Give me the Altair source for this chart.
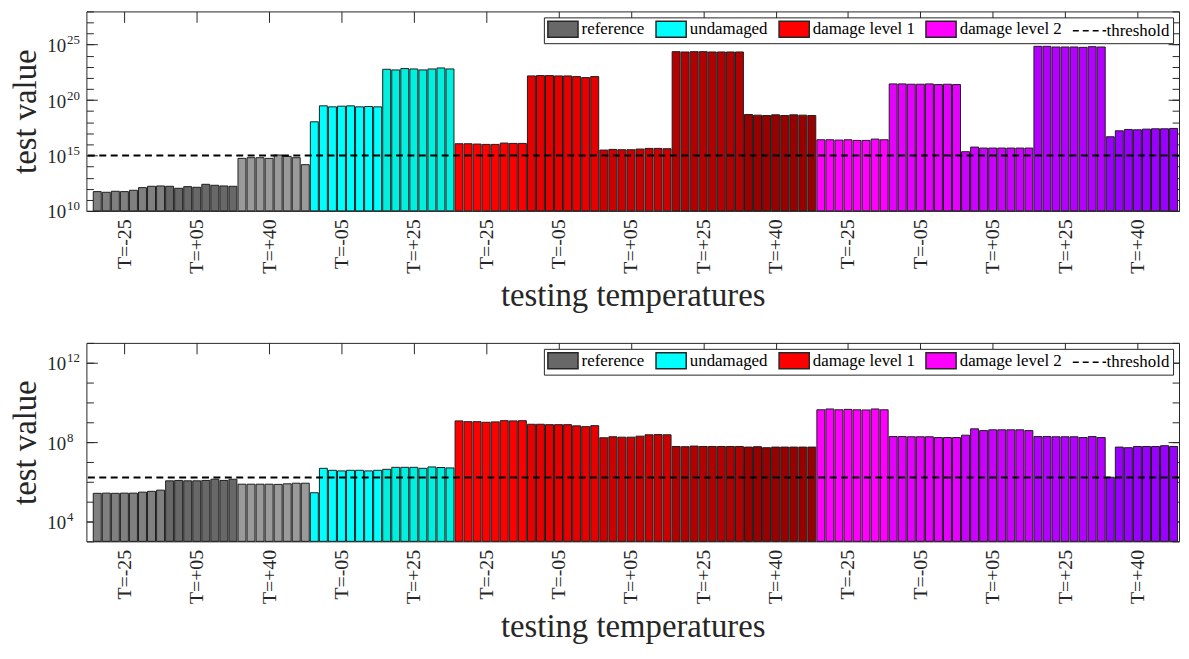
import json
import altair as alt
import pandas as pd

# ---------------- data ----------------
group_keys = [f"g{i:02d}" for i in range(1, 16)]
group_class = ["reference"] * 3 + ["undamaged"] * 2 + ["damage level 1"] * 5 + ["damage level 2"] * 5
temps = ["T=-25", "T=+05", "T=+40", "T=-05", "T=+25",
         "T=-25", "T=-05", "T=+05", "T=+25", "T=+40",
         "T=-25", "T=-05", "T=+05", "T=+25", "T=+40"]
group_colors = ["#808080", "#686868", "#9a9a9a", "#00ffff", "#00f0e0",
                "#ff0000", "#e60000", "#cc0000", "#b30000", "#990000",
                "#ff00ff", "#e600ff", "#cc00ff", "#b300ff", "#9900ff"]

# log10 of the test values (8 bars per temperature group)
top_log = [
    [11.74, 11.68, 11.77, 11.74, 11.86, 12.10, 12.22, 12.25],
    [12.22, 12.04, 12.19, 12.13, 12.40, 12.31, 12.25, 12.22],
    [14.74, 14.80, 14.80, 14.74, 15.04, 14.92, 14.80, 14.17],
    [18.04, 19.48, 19.39, 19.45, 19.48, 19.39, 19.42, 19.39],
    [22.78, 22.72, 22.84, 22.81, 22.72, 22.81, 22.90, 22.81],
    [16.06, 16.06, 16.03, 16.00, 16.00, 16.12, 16.09, 16.09],
    [22.18, 22.21, 22.21, 22.18, 22.18, 22.12, 22.03, 22.12],
    [15.49, 15.55, 15.52, 15.52, 15.58, 15.64, 15.64, 15.61],
    [24.37, 24.34, 24.37, 24.37, 24.34, 24.34, 24.34, 24.34],
    [18.70, 18.64, 18.61, 18.67, 18.61, 18.67, 18.64, 18.61],
    [16.42, 16.42, 16.39, 16.42, 16.36, 16.36, 16.48, 16.42],
    [21.46, 21.46, 21.43, 21.43, 21.46, 21.40, 21.43, 21.40],
    [15.34, 15.76, 15.67, 15.67, 15.67, 15.67, 15.67, 15.67],
    [24.85, 24.85, 24.79, 24.79, 24.79, 24.76, 24.82, 24.79],
    [16.69, 17.23, 17.35, 17.32, 17.38, 17.41, 17.41, 17.44],
]
bottom_log = [
    [5.42, 5.43, 5.42, 5.43, 5.43, 5.48, 5.52, 5.58],
    [6.05, 6.07, 6.05, 6.05, 6.07, 6.13, 6.07, 6.13],
    [5.88, 5.88, 5.88, 5.88, 5.87, 5.90, 5.93, 5.93],
    [5.45, 6.68, 6.58, 6.55, 6.58, 6.58, 6.55, 6.58],
    [6.63, 6.73, 6.73, 6.73, 6.68, 6.75, 6.72, 6.70],
    [9.07, 9.03, 9.03, 9.00, 9.02, 9.08, 9.07, 9.08],
    [8.90, 8.90, 8.88, 8.88, 8.88, 8.82, 8.78, 8.83],
    [8.22, 8.27, 8.25, 8.25, 8.30, 8.37, 8.38, 8.37],
    [7.78, 7.77, 7.80, 7.78, 7.78, 7.78, 7.78, 7.78],
    [7.75, 7.77, 7.72, 7.75, 7.75, 7.75, 7.75, 7.75],
    [9.63, 9.67, 9.63, 9.65, 9.63, 9.62, 9.67, 9.63],
    [8.28, 8.28, 8.27, 8.27, 8.27, 8.23, 8.23, 8.23],
    [8.35, 8.67, 8.58, 8.62, 8.62, 8.62, 8.62, 8.58],
    [8.28, 8.28, 8.27, 8.27, 8.27, 8.23, 8.28, 8.23],
    [6.23, 7.75, 7.72, 7.78, 7.78, 7.78, 7.82, 7.78],
]
top_threshold_log = 15.0
bottom_threshold_log = 6.22

top_domain_log = [10, 28]
top_major = [10, 15, 20, 25]
bottom_domain_log = [3, 13]
bottom_major = [4, 8, 12]

legend_keys = ["g02", "g04", "g06", "g11", "thr"]
legend_labels = ["reference", "undamaged", "damage level 1", "damage level 2", "threshold"]

BARS_PER_GROUP = 8
tick_pos = [4 + 8 * i for i in range(15)]
x_domain = [-0.2, 120.6]

FONT = "Liberation Serif"
INK = "#262626"
W, H_TOP, H_BOT = 1101, 201, 200


def build_df(logs, floor):
    rows = []
    for g, vals in enumerate(logs):
        for k, v in enumerate(vals):
            idx = g * BARS_PER_GROUP + k + 1
            rows.append({"idx": idx, "x0": idx - 0.44, "x1": idx + 0.44,
                         "key": group_keys[g], "cls": group_class[g],
                         "temp": temps[g], "value": 10 ** v, "base": 10 ** floor})
    return pd.DataFrame(rows)


label_arr = json.dumps(temps)
rect_path = "M-1,-1H2.8V1H-1Z"
line_path = "M-1,0H3.2"
label_expr = " : ".join(
    [f"datum.value === '{k}' ? '{v}'" for k, v in zip(legend_keys, legend_labels)]) + " : ''"

all_keys = group_keys + ["thr"]
fill_range = group_colors + ["transparent"]
stroke_range = [INK] * 15 + ["#000000"]
shape_range = [rect_path] * 15 + [line_path]
dash_range = [[1, 0]] * 15 + [[6, 4]]


def make_legend():
    return alt.Legend(
        values=legend_keys, labelExpr=label_expr,
        title=None, orient="top-right", direction="horizontal", offset=6,
        symbolSize=256, symbolStrokeWidth=1.5, symbolOpacity=1,
        labelFont=FONT, labelFontSize=17, labelColor="#000000", labelOffset=17,
        columnPadding=8, padding=3, strokeColor=INK, fillColor="white", cornerRadius=0,
    )


def panel(logs, dom_log, majors, thr_log, height):
    df = build_df(logs, dom_log[0])
    decades = list(range(dom_log[0], dom_log[1] + 1))
    yscale = alt.Scale(type="log", domain=[10 ** dom_log[0], 10 ** dom_log[1]], nice=False)
    xscale = alt.Scale(domain=x_domain, nice=False, zero=False)
    major_vals = [10 ** m for m in majors]
    dec_vals = [10 ** d for d in decades]

    bars = alt.Chart(df).mark_bar(stroke="#1e1e1e", strokeWidth=1).encode(
        x=alt.X("x0:Q", scale=xscale, axis=alt.Axis(
            orient="bottom", values=tick_pos,
            labelExpr=f"{label_arr}[round((datum.value - 4) / 8)]",
            labelAngle=270, labelFontSize=20, labelPadding=8, labelFlush=False,
            labelOverlap=False, tickSize=11, offset=-11,
            title="testing temperatures", titleFontSize=33, titlePadding=7)),
        x2="x1:Q",
        y=alt.Y("value:Q", scale=yscale, axis=alt.Axis(
            orient="left", values=major_vals, labelExpr="'10'",
            labelFontSize=19, labelPadding=21, labelOffset=1, labelOverlap=False,
            tickSize=11, offset=-11, title="test value", titleFontSize=33,
            titlePadding=4)),
        y2="base:Q",
        color=alt.Color("key:N", scale=alt.Scale(domain=group_keys, range=group_colors),
                        legend=None),
    )

    thr = alt.Chart(pd.DataFrame({"t": [10 ** thr_log]})).mark_rule(
        color="#000000", strokeWidth=2, strokeDash=[7, 4.5]).encode(
        y=alt.Y("t:Q", scale=yscale, axis=None))

    def ghost(xaxis, yaxis):
        return alt.Chart(df).mark_point(opacity=0, size=1, clip=True).encode(
            x=alt.X("idx:Q", scale=xscale, axis=xaxis),
            y=alt.Y("value:Q", scale=yscale, axis=yaxis))

    # invisible layer that carries the legend (fill + stroke + shape + dash merged)
    leg = alt.Chart(df).mark_point(opacity=0, filled=True, size=1, strokeWidth=1.5,
                                   clip=True).encode(
        x=alt.X("idx:Q", scale=xscale, axis=None),
        y=alt.Y("value:Q", scale=yscale, axis=None),
        fill=alt.Fill("key:N", scale=alt.Scale(domain=all_keys, range=fill_range),
                      legend=make_legend()),
        stroke=alt.Stroke("key:N", scale=alt.Scale(domain=all_keys, range=stroke_range),
                          legend=make_legend()),
        shape=alt.Shape("key:N", scale=alt.Scale(domain=all_keys, range=shape_range),
                        legend=make_legend()),
        strokeDash=alt.StrokeDash("key:N", scale=alt.Scale(domain=all_keys, range=dash_range),
                                  legend=make_legend()),
    )

    top_ticks = ghost(
        alt.Axis(orient="top", values=tick_pos, labels=False, tickSize=11, offset=-11, title=None),
        alt.Axis(orient="right", values=major_vals, labels=False, tickSize=11, offset=-11, title=None))
    left_minor = ghost(None, alt.Axis(orient="left", values=dec_vals, labels=False,
                                      tickSize=7, offset=-7, title=None))
    right_minor = ghost(None, alt.Axis(orient="right", values=dec_vals, labels=False,
                                       tickSize=7, offset=-7, title=None))
    exps = ghost(None, alt.Axis(
        orient="left", values=major_vals,
        labelExpr="format(round(log(datum.value) / LN10), 'd')",
        labelAlign="left", labelFontSize=13, labelPadding=20, labelOffset=-5,
        labelOverlap=False, ticks=False, tickSize=0, title=None))

    return alt.layer(bars, thr, leg, top_ticks, left_minor, right_minor, exps).resolve_axis(
        x="independent", y="independent").properties(width=W, height=height)


top = panel(top_log, top_domain_log, top_major, top_threshold_log, H_TOP)
bottom = panel(bottom_log, bottom_domain_log, bottom_major, bottom_threshold_log, H_BOT)

chart = alt.vconcat(top, bottom, spacing=28).resolve_scale(
    color="independent", fill="independent", stroke="independent",
    shape="independent", strokeDash="independent").resolve_legend(
    fill="independent", stroke="independent", shape="independent",
    strokeDash="independent").properties(
    padding={"left": 1, "top": 0, "right": 0, "bottom": 0},
    background="white",
).configure_view(stroke=INK, strokeWidth=1).configure_axis(
    labelFont=FONT, titleFont=FONT, labelColor=INK, titleColor=INK,
    tickColor=INK, domain=False, grid=False, titleFontWeight="normal",
    tickWidth=1, minExtent=0,
)

chart.save("out.html", embed_options={"renderer": "svg", "actions": False})
